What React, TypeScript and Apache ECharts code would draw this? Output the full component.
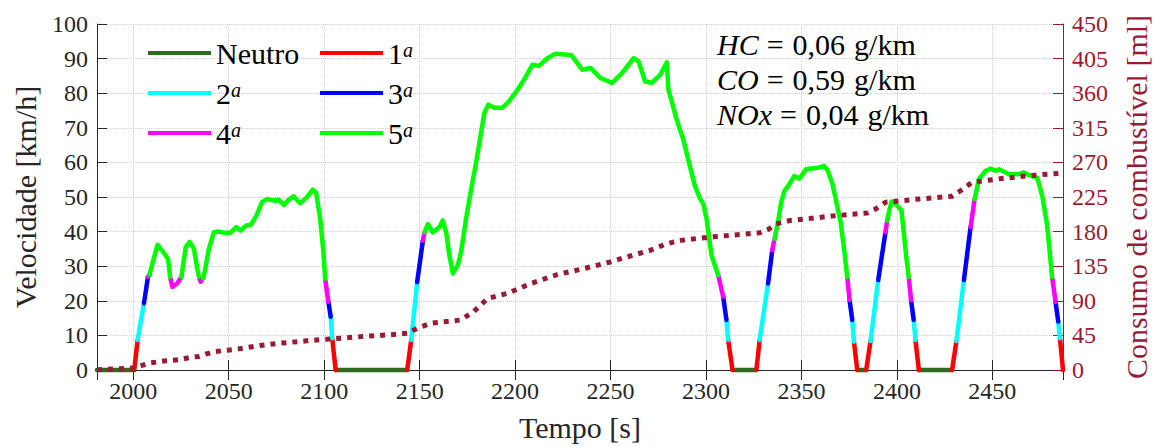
import React, { useEffect, useRef } from 'react';
import * as echarts from 'echarts';

const FONTE = 'Liberation Serif';
const COR_EIXO = '#262626';
const COR_CONSUMO = '#991a33';

// Gears: 0 = neutral, 1..5
const nomesMarcha = ['Neutro', '1', '2', '3', '4', '5'];
const coresMarcha = ['#2e6b1e', '#ff0000', '#00ffff', '#0000ff', '#ff00ff', '#00ff00'];

// Speed trace: time [s], speed [km/h] and the gear engaged from each sample to the next
const tempo = [
  1981, 2000.5, 2002.3, 2005.6, 2007.7, 2008.5, 2010, 2012.7, 2015, 2018.2,
  2019.3, 2020.5, 2023, 2025.2, 2027.5, 2029.5, 2031.8, 2033.5, 2034.4, 2035.3,
  2036.5, 2037.5, 2039.6, 2042.2, 2044.8, 2047.4, 2050.9, 2054, 2056.1, 2059.3,
  2061.4, 2064.5, 2067.4, 2070, 2074.4, 2076.1, 2079.1, 2081.3, 2083.9, 2087.4,
  2090.9, 2094, 2095.8, 2097.9, 2099.6, 2100.5, 2102.2, 2103.4, 2104.2, 2106,
  2143.5, 2145.6, 2148.7, 2151.7, 2152.6, 2154.3, 2156.9, 2160.4, 2162.1, 2163.9,
  2165.6, 2167.4, 2170, 2171.7, 2174.3, 2177, 2179.6, 2182.2, 2183.9, 2186,
  2189.1, 2193.4, 2196.9, 2201.3, 2204.7, 2209.1, 2212.6, 2216.9, 2221.2, 2227.3,
  2229.5, 2235.1, 2239.5, 2244.7, 2250.8, 2256, 2262.1, 2264.7, 2268.1, 2271.6,
  2276, 2279.5, 2280.3, 2282, 2284.6, 2288.1, 2291.5, 2294.2, 2296.8, 2298.6,
  2300.3, 2301.7, 2302.9, 2304.6, 2306.4, 2309, 2310.7, 2311.6, 2313.9,
  2326.4, 2328.1, 2332.5, 2334.7, 2335.9, 2337.7, 2339.4, 2341.1, 2343.7, 2346.3,
  2348.9, 2352.4, 2359.3, 2361.8, 2363.8, 2366.2, 2368.3, 2370.5, 2372.3, 2374,
  2375.2, 2376.6, 2377.5, 2379.2,
  2383.9, 2386.2, 2390.2, 2394, 2394.9, 2395.8, 2397.2, 2399.3, 2402.4, 2403.6,
  2404.8, 2406.2, 2407.4, 2408.8, 2409.7, 2411.5,
  2428.9, 2431.2, 2435.1, 2438.6, 2440.7, 2443, 2446.5, 2449.1, 2451.7, 2453.5,
  2458.7, 2463.9, 2466.5, 2469.2, 2473.5, 2476.1, 2478.7, 2481.3, 2483.1, 2484.5,
  2485.4, 2487,
];

const velocidade = [
  0, 0, 8.7, 19.3, 26.9, 27.5, 30.7, 36.2, 34.6, 32.2,
  26.9, 24.0, 25.0, 26.9, 35.5, 37.0, 35.0, 29.3, 27.0, 25.5,
  26.5, 28.5, 35.0, 39.8, 40.0, 39.7, 39.7, 41.3, 40.3, 41.8,
  41.8, 44.6, 48.5, 49.4, 48.9, 49.2, 47.7, 49.2, 50.2, 48.2,
  49.9, 52.1, 51.3, 43.7, 34.1, 26.4, 19.7, 15.4, 9.2, 0,
  0, 8.7, 25.4, 37.4, 39.8, 42.2, 39.8, 41.3, 43.2, 39.8,
  33.1, 27.9, 30.3, 34.1, 43.7, 52.3, 60.0, 68.6, 74.3, 76.7,
  75.8, 75.8, 77.7, 81.0, 83.9, 88.2, 87.9, 90.1, 91.4, 91.1,
  91.0, 86.8, 87.3, 84.4, 83.0, 85.8, 90.1, 89.2, 83.4, 83.0,
  85.3, 88.9, 81.0, 77.7, 72.4, 66.7, 59.0, 53.2, 49.6, 48.0,
  43.7, 37.9, 33.1, 30.3, 27.4, 21.2, 14.5, 8.7, 0,
  0, 8.7, 25.0, 34.6, 37.9, 42.7, 48.5, 51.8, 53.7, 56.1,
  55.3, 58.0, 58.5, 59.0, 57.6, 53.8, 48.5, 42.7, 35.1, 26.9,
  20.2, 14.5, 8.2, 0,
  0, 8.4, 26.0, 39.8, 43.2, 45.6, 48.7, 48.0, 46.1, 39.8,
  33.1, 26.9, 20.2, 14.5, 8.7, 0,
  0, 8.4, 26.0, 41.3, 49.4, 55.2, 57.6, 58.2, 57.6, 58.0,
  56.6, 56.6, 57.1, 56.3, 55.6, 50.4, 41.8, 26.9, 19.7, 14.0,
  9.2, 0,
];

const marcha = [
  0, 1, 2, 3, 4, 5, 5, 5, 5, 5,
  4, 4, 4, 5, 5, 5, 5, 5, 4, 4,
  5, 5, 5, 5, 5, 5, 5, 5, 5, 5,
  5, 5, 5, 5, 5, 5, 5, 5, 5, 5,
  5, 5, 5, 5, 5, 4, 3, 2, 1, 0,
  1, 2, 3, 4, 5, 5, 5, 5, 5, 5,
  5, 5, 5, 5, 5, 5, 5, 5, 5, 5,
  5, 5, 5, 5, 5, 5, 5, 5, 5, 5,
  5, 5, 5, 5, 5, 5, 5, 5, 5, 5,
  5, 5, 5, 5, 5, 5, 5, 5, 5, 5,
  5, 5, 5, 5, 4, 3, 2, 1, 0,
  1, 2, 3, 4, 5, 5, 5, 5, 5, 5,
  5, 5, 5, 5, 5, 5, 5, 5, 5, 4,
  3, 2, 1, 0,
  1, 2, 3, 4, 5, 5, 5, 5, 5, 5,
  5, 4, 3, 2, 1, 0,
  1, 2, 3, 4, 5, 5, 5, 5, 5, 5,
  5, 5, 5, 5, 5, 5, 5, 4, 3, 2,
  1, 0,
];

// Cumulative fuel consumption: time [s], volume [ml]
const tempoConsumo = [
  1981, 2000.5, 2003, 2008.3, 2017, 2024, 2030, 2034.4, 2037.9, 2043.1,
  2055.3, 2066.6, 2077, 2090.9, 2103.9, 2120, 2133.6, 2143.9, 2148.7, 2155.7,
  2171.4, 2178.3, 2185.6, 2196, 2208.2, 2222.1, 2236, 2249.9, 2258.5, 2270.7,
  2279.4, 2286.4, 2302, 2328, 2333.2, 2336.7, 2343.7, 2352.4, 2368, 2384.5,
  2388.9, 2394, 2411.5, 2428.9, 2433.3, 2439.3, 2454.9, 2472.3, 2486.2,
];
const consumo = [
  0.4, 2.6, 4.7, 9, 12, 13.3, 16.5, 17.7, 20.7, 24.1,
  27.5, 32, 34.9, 37.9, 40.5, 43.5, 45.7, 47.8, 54.3, 60.8,
  65, 75.9, 93.1, 99.6, 112.5, 124.1, 131.9, 140.5, 147, 155.6,
  164.2, 168.5, 172.9, 178.4, 183.6, 190, 194.3, 196.5, 200.8, 204.3,
  209.5, 218.1, 222.4, 225.9, 233.1, 243.9, 249.1, 253.4, 256,
];

// Emissions summary
const poluentes = ['HC', 'CO', 'NOx'];
const emissoes = [0.06, 0.59, 0.04];

function serieMarcha(g: number) {
  const dados: (number | null)[][] = [];
  for (let i = 0; i < tempo.length - 1; i++) {
    if (marcha[i] !== g) continue;
    if (i === 0 || marcha[i - 1] !== g) {
      if (dados.length) dados.push([tempo[i], null]);
      dados.push([tempo[i], velocidade[i]]);
    }
    dados.push([tempo[i + 1], velocidade[i + 1]]);
  }
  const cor = coresMarcha[g];
  return {
    type: 'line',
    name: nomesMarcha[g],
    data: dados,
    xAxisIndex: 0,
    yAxisIndex: 0,
    showSymbol: false,
    connectNulls: false,
    clip: false,
    itemStyle: { color: cor },
    lineStyle: { color: cor, width: 4.5, cap: 'round', join: 'round' },
    z: 2,
  };
}

const textoLegenda = (nome: string) =>
  nome === 'Neutro' ? '{n|Neutro}' : `{n|${nome}}{s|a}`;

const richLegenda = {
  n: { fontFamily: FONTE, fontSize: 30, lineHeight: 26, color: '#000' },
  s: { fontFamily: FONTE, fontSize: 20, fontStyle: 'italic', lineHeight: 9, verticalAlign: 'top', color: '#000' },
};

function legenda(nomes: string[], left: number) {
  return {
    data: nomes,
    orient: 'vertical',
    left,
    top: 38,
    padding: 0,
    itemWidth: 63,
    itemHeight: 4,
    itemGap: 10,
    icon: 'rect',
    formatter: textoLegenda,
    textStyle: { fontFamily: FONTE, fontSize: 30, lineHeight: 26, color: '#000', rich: richLegenda },
  };
}

export default function App() {
  const ref = useRef<HTMLDivElement>(null);

  useEffect(() => {
    document.body.style.margin = '0';
    if (!ref.current) return;
    const chart = echarts.init(ref.current, undefined, { renderer: 'svg' });

    const textoEmissoes = poluentes
      .map((p, i) => `{v|${p}}{e|=}{n|${emissoes[i].toFixed(2).replace('.', ',')}}{u|g/km}`)
      .join('\n');

    const rotuloEixo = { fontFamily: FONTE, fontSize: 24, color: COR_EIXO };
    const tituloEixo = { fontFamily: FONTE, fontSize: 30, color: COR_EIXO };
    const grade = { show: true, lineStyle: { color: '#cfcfcf', type: 'dotted', width: 1 } };
    const semSeparador = (v: number) => String(v);

    chart.setOption({
      animation: false,
      backgroundColor: '#ffffff',
      textStyle: { fontFamily: FONTE },
      grid: { left: 97, right: 91, top: 24, bottom: 75, containLabel: false },
      legend: [legenda(['Neutro', '2', '4'], 148), legenda(['1', '3', '5'], 320)],
      xAxis: [
        {
          type: 'value',
          min: 1981,
          max: 2487,
          splitNumber: 10,
          position: 'bottom',
          name: 'Tempo [s]',
          nameLocation: 'middle',
          nameGap: 42,
          nameTextStyle: tituloEixo,
          axisLine: { show: true, lineStyle: { color: COR_EIXO, width: 1 } },
          axisTick: { show: true, inside: true, length: 10, lineStyle: { color: COR_EIXO } },
          axisLabel: { ...rotuloEixo, margin: 9, showMinLabel: false, showMaxLabel: false, formatter: semSeparador },
          splitLine: grade,
        },
        {
          type: 'value',
          min: 1981,
          max: 2487,
          splitNumber: 10,
          position: 'top',
          axisLine: { show: true, lineStyle: { color: COR_EIXO, width: 1 } },
          axisTick: { show: true, inside: true, length: 10, lineStyle: { color: COR_EIXO } },
          axisLabel: { show: false },
          splitLine: { show: false },
        },
      ],
      yAxis: [
        {
          type: 'value',
          min: 0,
          max: 100,
          interval: 10,
          position: 'left',
          name: 'Velocidade [km/h]',
          nameLocation: 'middle',
          nameRotate: 90,
          nameGap: 57,
          nameTextStyle: tituloEixo,
          axisLine: { show: true, lineStyle: { color: COR_EIXO, width: 1 } },
          axisTick: { show: true, inside: true, length: 10, lineStyle: { color: COR_EIXO } },
          axisLabel: { ...rotuloEixo, margin: 9, formatter: semSeparador },
          splitLine: grade,
        },
        {
          type: 'value',
          min: 0,
          max: 450,
          interval: 45,
          position: 'right',
          name: 'Consumo de combustível [ml]',
          nameLocation: 'middle',
          nameRotate: 90,
          nameGap: 58,
          nameTextStyle: { ...tituloEixo, color: COR_CONSUMO },
          axisLine: { show: true, lineStyle: { color: COR_CONSUMO, width: 1 } },
          axisTick: { show: true, inside: true, length: 10, lineStyle: { color: COR_CONSUMO } },
          axisLabel: { ...rotuloEixo, color: COR_CONSUMO, margin: 9, formatter: semSeparador },
          splitLine: { show: false },
        },
      ],
      graphic: [
        {
          type: 'text',
          x: 717,
          y: 27,
          z: 10,
          style: {
            text: textoEmissoes,
            fill: '#000',
            verticalAlign: 'top',
            align: 'left',
            rich: {
              v: { fontFamily: FONTE, fontSize: 30, fontStyle: 'italic', lineHeight: 35, padding: [0, 8, 0, 0], fill: '#000' },
              e: { fontFamily: FONTE, fontSize: 30, lineHeight: 35, padding: [0, 9, 0, 0], fill: '#000' },
              n: { fontFamily: FONTE, fontSize: 30, lineHeight: 35, padding: [0, 9, 0, 0], fill: '#000' },
              u: { fontFamily: FONTE, fontSize: 30, lineHeight: 35, fill: '#000' },
            },
          },
        },
      ],
      series: [
        ...nomesMarcha.map((_, g) => serieMarcha(g)),
        {
          type: 'line',
          name: 'Consumo',
          data: tempoConsumo.map((t, i) => [t, consumo[i]]),
          xAxisIndex: 0,
          yAxisIndex: 1,
          showSymbol: false,
          clip: false,
          itemStyle: { color: COR_CONSUMO },
          lineStyle: { color: COR_CONSUMO, width: 5, type: [5, 6], cap: 'butt' },
          z: 3,
        },
      ],
    });

    return () => chart.dispose();
  }, []);

  return <div ref={ref} style={{ width: 1159, height: 447 }} />;
}
